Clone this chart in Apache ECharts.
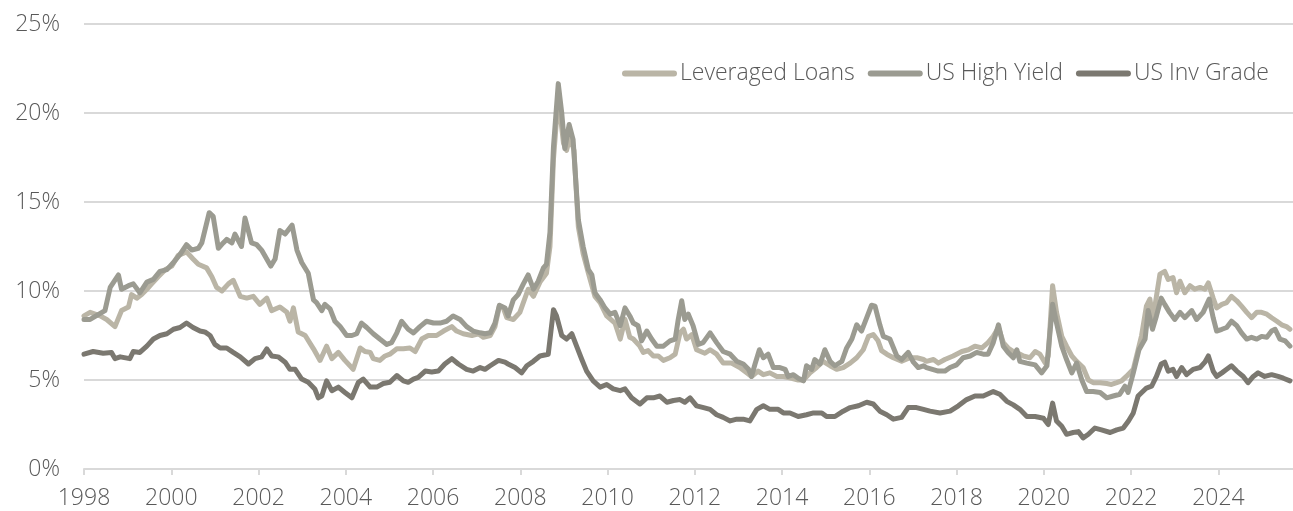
<!DOCTYPE html>
<html>
<head>
<meta charset="utf-8">
<title>Spreads</title>
<script src="https://cdn.jsdelivr.net/npm/echarts@6/dist/echarts.min.js"></script>
<style>
  html, body { margin: 0; padding: 0; background: #fff; }
  #chart { width: 1293px; height: 511px; }
</style>
</head>
<body>
<div id="chart"></div>
<script>
// [decimal year, %]
const leveragedLoans = [
  [1998.0, 8.6], [1998.14, 8.8], [1998.37, 8.6], [1998.52, 8.4], [1998.71, 8.0], [1998.86, 8.9],
  [1999.02, 9.1], [1999.09, 9.8], [1999.21, 9.6], [1999.32, 9.8], [1999.44, 10.1], [1999.55, 10.4],
  [1999.7, 10.8], [1999.86, 11.2], [2000.01, 11.4], [2000.16, 12.0], [2000.35, 12.2], [2000.5, 11.8],
  [2000.62, 11.5], [2000.81, 11.3], [2000.93, 10.8], [2001.04, 10.2], [2001.16, 10.0], [2001.31, 10.4],
  [2001.42, 10.6], [2001.58, 9.7], [2001.73, 9.6], [2001.88, 9.7], [2002.03, 9.25], [2002.19, 9.6],
  [2002.3, 8.9], [2002.49, 9.1], [2002.65, 8.8], [2002.72, 8.3], [2002.8, 9.05], [2002.91, 7.7],
  [2003.07, 7.5], [2003.26, 6.75], [2003.41, 6.1], [2003.56, 6.9], [2003.68, 6.2], [2003.83, 6.55],
  [2003.98, 6.1], [2004.17, 5.6], [2004.33, 6.8], [2004.44, 6.6], [2004.56, 6.55], [2004.63, 6.2],
  [2004.78, 6.1], [2004.9, 6.35], [2005.01, 6.45], [2005.17, 6.75], [2005.32, 6.75], [2005.47, 6.8],
  [2005.59, 6.6], [2005.74, 7.3], [2005.89, 7.5], [2006.08, 7.5], [2006.24, 7.75], [2006.43, 8.0],
  [2006.54, 7.75], [2006.69, 7.6], [2006.89, 7.5], [2007.04, 7.6], [2007.15, 7.4], [2007.31, 7.5],
  [2007.42, 8.0], [2007.52, 9.15], [2007.61, 9.05], [2007.69, 8.5], [2007.84, 8.4], [2007.99, 8.8],
  [2008.18, 10.1], [2008.3, 9.7], [2008.45, 10.5], [2008.6, 11.0], [2008.68, 12.5], [2008.76, 17.4],
  [2008.87, 20.9], [2008.99, 18.3], [2009.06, 17.9], [2009.14, 18.7], [2009.23, 17.9], [2009.33, 13.6],
  [2009.44, 12.1], [2009.56, 11.0], [2009.71, 9.7], [2009.83, 9.35], [2009.98, 8.6], [2010.17, 8.2],
  [2010.29, 7.3], [2010.4, 8.4], [2010.51, 7.4], [2010.59, 7.3], [2010.74, 6.9], [2010.82, 6.55],
  [2010.93, 6.65], [2011.05, 6.35], [2011.16, 6.35], [2011.28, 6.1], [2011.43, 6.25], [2011.55, 6.45],
  [2011.66, 7.65], [2011.74, 7.85], [2011.81, 7.3], [2011.93, 7.55], [2012.04, 6.7], [2012.23, 6.5],
  [2012.35, 6.7], [2012.5, 6.45], [2012.65, 5.95], [2012.84, 5.95], [2013.03, 5.7], [2013.19, 5.4],
  [2013.3, 5.2], [2013.45, 5.5], [2013.57, 5.3], [2013.72, 5.4], [2013.88, 5.2], [2014.03, 5.2],
  [2014.22, 5.1], [2014.37, 5.0], [2014.49, 5.0], [2014.64, 5.4], [2014.79, 5.7], [2014.94, 6.05],
  [2015.1, 5.8], [2015.25, 5.6], [2015.4, 5.7], [2015.56, 5.95], [2015.71, 6.25], [2015.86, 6.7],
  [2015.98, 7.45], [2016.09, 7.55], [2016.2, 7.2], [2016.28, 6.65], [2016.4, 6.45], [2016.55, 6.25],
  [2016.74, 6.05], [2016.93, 6.25], [2017.09, 6.25], [2017.24, 6.15], [2017.31, 6.05], [2017.47, 6.15],
  [2017.58, 5.95], [2017.73, 6.15], [2017.92, 6.35], [2018.12, 6.6], [2018.27, 6.7], [2018.42, 6.9],
  [2018.58, 6.8], [2018.72, 7.1], [2018.84, 7.45], [2018.96, 7.95], [2019.07, 7.1], [2019.18, 6.8],
  [2019.3, 6.6], [2019.41, 6.5], [2019.53, 6.35], [2019.68, 6.25], [2019.8, 6.6], [2019.91, 6.45],
  [2020.03, 5.95], [2020.1, 6.35], [2020.2, 10.3], [2020.29, 8.8], [2020.41, 7.45], [2020.52, 6.9],
  [2020.64, 6.35], [2020.75, 6.05], [2020.9, 5.7], [2021.02, 5.0], [2021.13, 4.85], [2021.29, 4.85],
  [2021.44, 4.8], [2021.55, 4.75], [2021.67, 4.85], [2021.78, 4.95], [2021.89, 5.2], [2022.05, 5.6],
  [2022.16, 6.7], [2022.24, 7.5], [2022.35, 9.15], [2022.43, 9.55], [2022.5, 8.4], [2022.58, 9.7],
  [2022.66, 10.95], [2022.77, 11.1], [2022.85, 10.65], [2022.96, 10.75], [2023.04, 9.9], [2023.12, 10.55],
  [2023.23, 9.9], [2023.35, 10.3], [2023.46, 10.1], [2023.58, 10.2], [2023.69, 10.1], [2023.77, 10.45],
  [2023.88, 9.6], [2023.96, 9.05], [2024.08, 9.25], [2024.19, 9.35], [2024.3, 9.7], [2024.42, 9.45],
  [2024.53, 9.15], [2024.65, 8.8], [2024.76, 8.5], [2024.88, 8.8], [2024.99, 8.8], [2025.11, 8.7],
  [2025.22, 8.5], [2025.34, 8.3], [2025.45, 8.1], [2025.56, 8.0], [2025.64, 7.85]
];

const usHighYield = [
  [1998.0, 8.4], [1998.14, 8.4], [1998.48, 8.9], [1998.6, 10.2], [1998.79, 10.9], [1998.86, 10.1],
  [1999.02, 10.3], [1999.13, 10.4], [1999.28, 9.9], [1999.44, 10.5], [1999.59, 10.65], [1999.74, 11.1],
  [1999.9, 11.2], [2000.05, 11.6], [2000.2, 12.05], [2000.35, 12.6], [2000.47, 12.3], [2000.62, 12.4],
  [2000.7, 12.7], [2000.87, 14.4], [2000.96, 14.2], [2001.08, 12.4], [2001.19, 12.7], [2001.27, 12.9],
  [2001.39, 12.7], [2001.46, 13.2], [2001.61, 12.5], [2001.69, 14.1], [2001.84, 12.7], [2001.96, 12.6],
  [2002.07, 12.3], [2002.28, 11.4], [2002.38, 11.8], [2002.49, 13.4], [2002.61, 13.2], [2002.77, 13.7],
  [2002.88, 12.3], [2002.99, 11.6], [2003.14, 11.0], [2003.26, 9.5], [2003.33, 9.35], [2003.45, 8.9],
  [2003.52, 9.25], [2003.64, 9.0], [2003.75, 8.3], [2003.87, 8.0], [2004.02, 7.5], [2004.14, 7.5],
  [2004.25, 7.6], [2004.36, 8.2], [2004.48, 7.95], [2004.63, 7.6], [2004.78, 7.3], [2004.94, 7.0],
  [2005.05, 7.1], [2005.17, 7.65], [2005.28, 8.3], [2005.43, 7.85], [2005.55, 7.65], [2005.7, 8.0],
  [2005.85, 8.3], [2006.01, 8.2], [2006.16, 8.2], [2006.31, 8.3], [2006.46, 8.6], [2006.62, 8.4],
  [2006.77, 8.0], [2006.92, 7.75], [2007.08, 7.65], [2007.19, 7.6], [2007.31, 7.65], [2007.42, 8.2],
  [2007.52, 9.2], [2007.65, 9.05], [2007.72, 8.6], [2007.84, 9.5], [2007.95, 9.8], [2008.07, 10.4],
  [2008.18, 10.9], [2008.3, 10.1], [2008.41, 10.55], [2008.53, 11.3], [2008.6, 11.5], [2008.68, 13.3],
  [2008.76, 18.1], [2008.87, 21.65], [2008.95, 20.0], [2009.02, 18.0], [2009.12, 19.35], [2009.21, 18.5],
  [2009.33, 14.0], [2009.44, 12.5], [2009.56, 11.2], [2009.64, 10.9], [2009.71, 9.9], [2009.83, 9.5],
  [2009.94, 9.05], [2010.06, 8.7], [2010.17, 8.8], [2010.29, 8.05], [2010.4, 9.05], [2010.51, 8.6],
  [2010.59, 8.2], [2010.7, 8.05], [2010.78, 7.2], [2010.9, 7.75], [2011.01, 7.3], [2011.13, 6.9],
  [2011.28, 6.9], [2011.43, 7.2], [2011.55, 7.3], [2011.62, 8.4], [2011.7, 9.45], [2011.77, 8.4],
  [2011.85, 8.7], [2011.96, 8.05], [2012.08, 7.0], [2012.19, 7.1], [2012.35, 7.65], [2012.5, 7.1],
  [2012.65, 6.6], [2012.81, 6.45], [2012.96, 6.05], [2013.11, 5.9], [2013.23, 5.6], [2013.3, 5.2],
  [2013.38, 5.9], [2013.48, 6.7], [2013.57, 6.25], [2013.68, 6.45], [2013.8, 5.7], [2013.95, 5.7],
  [2014.07, 5.6], [2014.14, 5.2], [2014.26, 5.3], [2014.37, 5.1], [2014.49, 4.95], [2014.56, 5.8],
  [2014.68, 5.6], [2014.75, 6.15], [2014.87, 5.9], [2014.98, 6.7], [2015.1, 6.05], [2015.21, 5.8],
  [2015.37, 6.05], [2015.48, 6.8], [2015.6, 7.3], [2015.71, 8.1], [2015.82, 7.75], [2015.94, 8.5],
  [2016.05, 9.2], [2016.13, 9.15], [2016.24, 8.1], [2016.32, 7.45], [2016.47, 7.3], [2016.63, 6.35],
  [2016.74, 6.15], [2016.89, 6.55], [2017.01, 6.0], [2017.12, 5.7], [2017.24, 5.8], [2017.31, 5.7],
  [2017.58, 5.5], [2017.73, 5.5], [2017.85, 5.7], [2018.0, 5.85], [2018.15, 6.25], [2018.31, 6.35],
  [2018.46, 6.55], [2018.61, 6.45], [2018.72, 6.45], [2018.84, 7.1], [2018.96, 8.1], [2019.07, 6.9],
  [2019.18, 6.55], [2019.3, 6.25], [2019.38, 6.7], [2019.45, 6.05], [2019.61, 5.95], [2019.8, 5.85],
  [2019.95, 5.4], [2020.07, 5.8], [2020.2, 9.25], [2020.29, 8.2], [2020.41, 6.9], [2020.52, 6.15],
  [2020.64, 5.4], [2020.75, 5.95], [2020.87, 5.0], [2020.98, 4.35], [2021.13, 4.35], [2021.29, 4.3],
  [2021.44, 4.0], [2021.59, 4.1], [2021.74, 4.2], [2021.86, 4.65], [2021.93, 4.3], [2022.05, 5.4],
  [2022.18, 6.7], [2022.32, 7.3], [2022.39, 8.9], [2022.49, 7.85], [2022.58, 8.6], [2022.69, 9.6],
  [2022.77, 9.25], [2022.88, 8.8], [2023.0, 8.4], [2023.12, 8.8], [2023.23, 8.5], [2023.39, 8.9],
  [2023.5, 8.4], [2023.65, 8.8], [2023.79, 9.55], [2023.88, 8.5], [2023.96, 7.75], [2024.08, 7.85],
  [2024.19, 7.95], [2024.3, 8.3], [2024.42, 8.05], [2024.53, 7.65], [2024.65, 7.3], [2024.76, 7.4],
  [2024.88, 7.3], [2024.99, 7.45], [2025.11, 7.4], [2025.22, 7.75], [2025.3, 7.85], [2025.41, 7.3],
  [2025.53, 7.2], [2025.64, 6.9]
];

const usInvGrade = [
  [1998.0, 6.45], [1998.21, 6.6], [1998.44, 6.5], [1998.63, 6.55], [1998.71, 6.2], [1998.83, 6.3],
  [1999.05, 6.2], [1999.13, 6.6], [1999.28, 6.55], [1999.44, 6.9], [1999.59, 7.3], [1999.74, 7.5],
  [1999.9, 7.6], [2000.05, 7.85], [2000.2, 7.95], [2000.35, 8.2], [2000.5, 7.95], [2000.66, 7.75],
  [2000.77, 7.7], [2000.89, 7.5], [2001.0, 7.0], [2001.12, 6.8], [2001.27, 6.8], [2001.42, 6.55],
  [2001.58, 6.3], [2001.77, 5.9], [2001.92, 6.2], [2002.07, 6.3], [2002.19, 6.75], [2002.3, 6.35],
  [2002.45, 6.3], [2002.61, 6.0], [2002.72, 5.6], [2002.84, 5.6], [2002.99, 5.05], [2003.14, 4.87],
  [2003.29, 4.5], [2003.37, 4.0], [2003.45, 4.1], [2003.56, 4.95], [2003.68, 4.4], [2003.83, 4.6],
  [2003.98, 4.3], [2004.14, 4.0], [2004.29, 4.87], [2004.4, 5.05], [2004.56, 4.6], [2004.71, 4.6],
  [2004.86, 4.8], [2005.01, 4.87], [2005.17, 5.25], [2005.32, 4.95], [2005.43, 4.87], [2005.55, 5.05],
  [2005.66, 5.15], [2005.82, 5.5], [2005.97, 5.45], [2006.12, 5.5], [2006.27, 5.9], [2006.43, 6.2],
  [2006.58, 5.9], [2006.77, 5.6], [2006.92, 5.5], [2007.08, 5.7], [2007.19, 5.6], [2007.31, 5.8],
  [2007.5, 6.1], [2007.65, 6.0], [2007.72, 5.9], [2007.88, 5.7], [2008.03, 5.4], [2008.15, 5.8],
  [2008.3, 6.05], [2008.45, 6.35], [2008.64, 6.45], [2008.76, 8.95], [2008.83, 8.6], [2008.95, 7.5],
  [2009.06, 7.3], [2009.18, 7.6], [2009.29, 6.9], [2009.41, 6.15], [2009.52, 5.5], [2009.67, 4.95],
  [2009.83, 4.6], [2009.98, 4.75], [2010.13, 4.5], [2010.29, 4.4], [2010.4, 4.5], [2010.55, 4.0],
  [2010.74, 3.65], [2010.9, 4.0], [2011.05, 4.0], [2011.2, 4.1], [2011.36, 3.75], [2011.51, 3.85],
  [2011.66, 3.9], [2011.77, 3.75], [2011.89, 4.0], [2012.04, 3.55], [2012.2, 3.45], [2012.35, 3.35],
  [2012.5, 3.05], [2012.65, 2.9], [2012.81, 2.7], [2012.96, 2.8], [2013.11, 2.8], [2013.26, 2.7],
  [2013.42, 3.35], [2013.57, 3.55], [2013.72, 3.35], [2013.91, 3.35], [2014.03, 3.15], [2014.18, 3.15],
  [2014.37, 2.95], [2014.56, 3.05], [2014.72, 3.15], [2014.91, 3.15], [2015.02, 2.95], [2015.21, 2.95],
  [2015.4, 3.25], [2015.56, 3.45], [2015.75, 3.55], [2015.94, 3.75], [2016.09, 3.65], [2016.24, 3.25],
  [2016.4, 3.05], [2016.55, 2.8], [2016.74, 2.9], [2016.89, 3.45], [2017.08, 3.45], [2017.24, 3.35],
  [2017.39, 3.25], [2017.62, 3.15], [2017.85, 3.25], [2018.04, 3.55], [2018.23, 3.9], [2018.42, 4.1],
  [2018.61, 4.1], [2018.84, 4.35], [2018.99, 4.2], [2019.15, 3.8], [2019.3, 3.6], [2019.45, 3.35],
  [2019.61, 2.95], [2019.8, 2.95], [2019.99, 2.85], [2020.1, 2.5], [2020.2, 3.7], [2020.29, 2.7],
  [2020.41, 2.4], [2020.52, 1.95], [2020.67, 2.05], [2020.79, 2.1], [2020.9, 1.75], [2021.02, 1.95],
  [2021.17, 2.3], [2021.32, 2.2], [2021.52, 2.05], [2021.67, 2.2], [2021.82, 2.3], [2021.94, 2.7],
  [2022.05, 3.15], [2022.16, 4.1], [2022.35, 4.55], [2022.47, 4.65], [2022.58, 5.2], [2022.69, 5.9],
  [2022.77, 6.0], [2022.85, 5.5], [2022.96, 5.6], [2023.04, 5.2], [2023.16, 5.7], [2023.27, 5.3],
  [2023.42, 5.6], [2023.58, 5.7], [2023.69, 6.0], [2023.77, 6.35], [2023.88, 5.5], [2023.96, 5.2],
  [2024.08, 5.4], [2024.19, 5.6], [2024.3, 5.8], [2024.42, 5.5], [2024.57, 5.2], [2024.68, 4.85],
  [2024.8, 5.2], [2024.91, 5.4], [2025.06, 5.2], [2025.22, 5.3], [2025.37, 5.2], [2025.49, 5.1],
  [2025.64, 4.95]
];

const seriesNames = ['Leveraged Loans', 'US High Yield', 'US Inv Grade'];
const seriesColors = ['#bab5a6', '#9b9b91', '#7b7870'];

const textColor = '#595959';
const gridColor = '#d9d9d9';
const fontFamily = '"Open Sans", "Noto Sans", sans-serif';

const chart = echarts.init(document.getElementById('chart'), null, { renderer: 'canvas' });

chart.setOption({
  animation: false,
  textStyle: { fontFamily: fontFamily, fontWeight: 300 },
  grid: {
    left: 84,
    right: 0,
    top: 24,
    bottom: 42,
    containLabel: false
  },
  legend: {
    data: seriesNames,
    right: 19,
    top: 57,
    itemWidth: 55,
    itemHeight: 6,
    itemGap: 13,
    icon: 'path://M3,0 L52,0 A3,3 0 0 1 52,6 L3,6 A3,3 0 0 1 3,0 Z',
    textStyle: { color: textColor, fontSize: 23, fontWeight: 300, fontFamily: fontFamily, padding: [0, 0, 0, -2] }
  },
  xAxis: {
    type: 'value',
    min: 1998,
    max: 2025.71,
    interval: 2,
    axisLine: { show: true, lineStyle: { color: gridColor, width: 2 } },
    axisTick: { show: true, length: 6, lineStyle: { color: gridColor, width: 2 } },
    splitLine: { show: false },
    axisLabel: {
      color: textColor,
      fontSize: 23,
      fontWeight: 300,
      margin: 18,
      showMaxLabel: false,
      formatter: function (v) { return v % 2 === 0 ? String(v) : ''; }
    }
  },
  yAxis: {
    type: 'value',
    min: 0,
    max: 25,
    interval: 5,
    axisLine: { show: false },
    axisTick: { show: false },
    splitLine: { lineStyle: { color: gridColor, width: 2 } },
    axisLabel: {
      color: textColor,
      fontSize: 23,
      fontWeight: 300,
      margin: 24,
      formatter: '{value}%'
    }
  },
  series: [leveragedLoans, usHighYield, usInvGrade].map(function (data, i) {
    return {
      name: seriesNames[i],
      type: 'line',
      data: data,
      symbol: 'none',
      color: seriesColors[i],
      lineStyle: { width: 5, color: seriesColors[i], cap: 'round', join: 'round' }
    };
  })
});
</script>
</body>
</html>
